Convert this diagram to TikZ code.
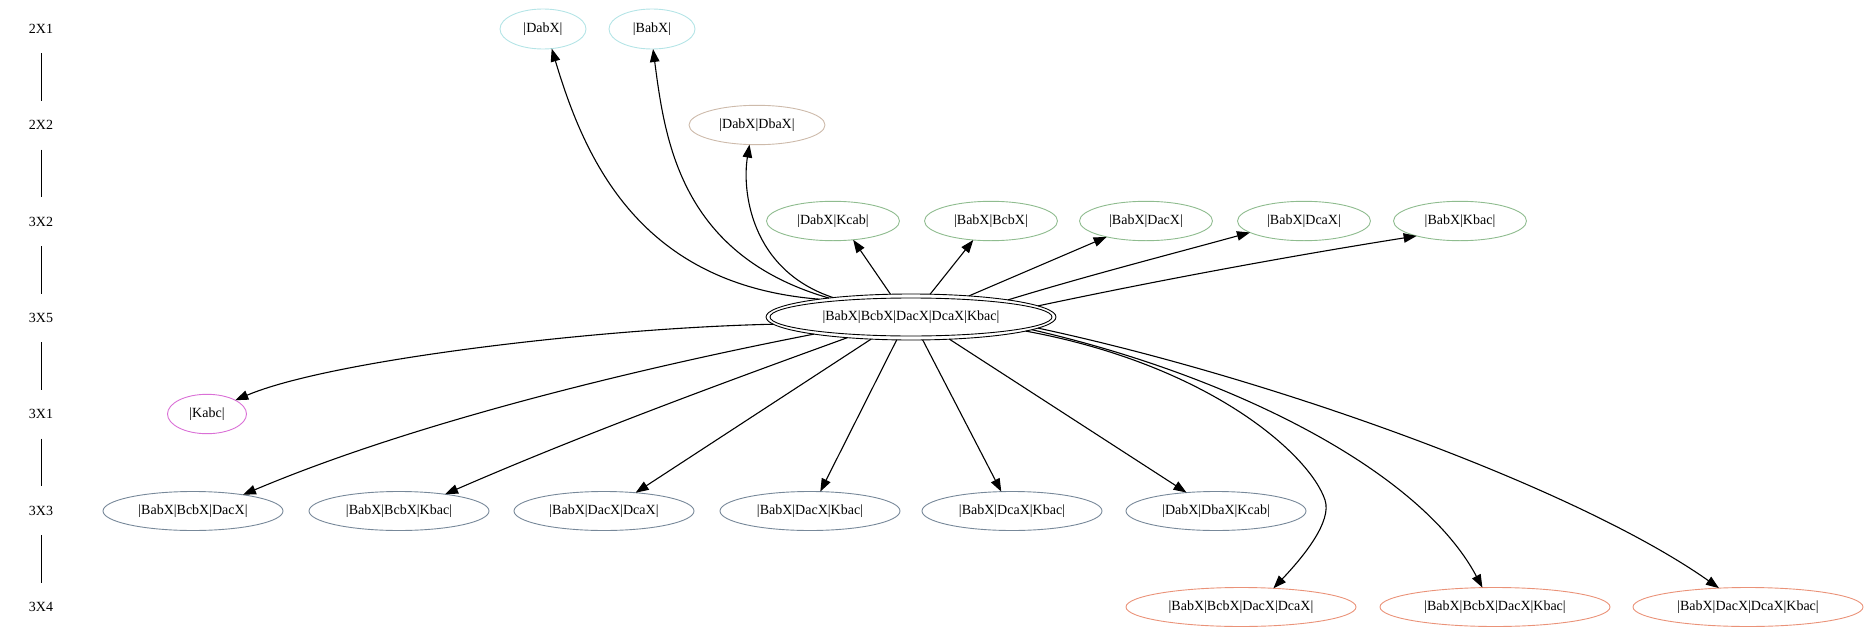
\documentclass[tikz,border=0pt]{standalone}
\usepackage{fontspec}
\setmainfont{Liberation Serif}
\usetikzlibrary{shapes.geometric,arrows.meta}
\definecolor{cA}{HTML}{B4E4E6}
\definecolor{cB}{HTML}{CDBAAA}
\definecolor{cC}{HTML}{8FBC8F}
\definecolor{cD}{HTML}{DA70D6}
\definecolor{cE}{HTML}{778899}
\definecolor{cF}{HTML}{EA9278}
\begin{document}
\begin{tikzpicture}[x=1pt,y=-1pt,
  every node/.style={font=\fontsize{14pt}{16pt}\selectfont, inner sep=0pt, outer sep=0pt},
  nd/.style={ellipse, draw, line width=0.9pt},
  rowA/.style={nd, draw=cA, minimum width=86pt, minimum height=40pt},
  rowB/.style={nd, draw=cB, minimum width=136pt, minimum height=39.4pt},
  rowC/.style={nd, draw=cC, minimum width=133pt, minimum height=39.4pt},
  rowD/.style={nd, draw=cD, minimum width=79pt, minimum height=39.4pt},
  rowE/.style={nd, draw=cE, minimum width=180pt, minimum height=39pt},
  rowF/.style={nd, draw=cF, minimum width=230pt, minimum height=39pt},
  hub/.style={nd, draw=black, minimum width=290pt, minimum height=46pt},
  rank/.style={minimum height=48.6pt},
  edge/.style={line width=1.1pt, -{Triangle[length=13pt,width=9.5pt]}},
  rankline/.style={line width=1pt}
]
\useasboundingbox (0,0) rectangle (1869,637);
% rank labels
\node[rank] (k1) at (41,29) {2X1};
\node[rank] (k2) at (41,125.3) {2X2};
\node[rank] (k3) at (41,221.7) {3X2};
\node[rank] (k4) at (41,318) {3X5};
\node[rank] (k5) at (41,414.3) {3X1};
\node[rank] (k6) at (41,510.7) {3X3};
\node[rank] (k7) at (41,607) {3X4};
\draw[rankline] (k1.south) -- (k2.north);
\draw[rankline] (k2.south) -- (k3.north);
\draw[rankline] (k3.south) -- (k4.north);
\draw[rankline] (k4.south) -- (k5.north);
\draw[rankline] (k5.south) -- (k6.north);
\draw[rankline] (k6.south) -- (k7.north);
% nodes
\node[rowA] (n1) at (543,29) {|DabX|};
\node[rowA] (n2) at (652,29) {|BabX|};
\node[rowB] (n3) at (757,125) {|DabX|DbaX|};
\node[rowC] (n4) at (833,221) {|DabX|Kcab|};
\node[rowC] (n5) at (991,221) {|BabX|BcbX|};
\node[rowC] (n6) at (1146,221) {|BabX|DacX|};
\node[rowC] (n7) at (1304,221) {|BabX|DcaX|};
\node[rowC] (n8) at (1460,221) {|BabX|Kbac|};
\node[hub] (c) at (911,317) {|BabX|BcbX|DacX|DcaX|Kbac|};
\draw[line width=0.9pt] (c.center) ellipse [x radius=141pt, y radius=19pt];
\node[rowD] (n9) at (207,414) {|Kabc|};
\node[rowE] (n10) at (193,511) {|BabX|BcbX|DacX|};
\node[rowE] (n11) at (399,511) {|BabX|BcbX|Kbac|};
\node[rowE] (n12) at (604,511) {|BabX|DacX|DcaX|};
\node[rowE] (n13) at (810,511) {|BabX|DacX|Kbac|};
\node[rowE] (n14) at (1012,511) {|BabX|DcaX|Kbac|};
\node[rowE] (n15) at (1216,511) {|DabX|DbaX|Kcab|};
\node[rowF] (n16) at (1241,607) {|BabX|BcbX|DacX|DcaX|};
\node[rowF] (n17) at (1495,607) {|BabX|BcbX|DacX|Kbac|};
\node[rowF] (n18) at (1748,607) {|BabX|DacX|DcaX|Kbac|};
% edges upward
\draw[edge] (c.169.6) .. controls (640,285) and (585,160) .. (n1.-66);
\draw[edge] (c.167.1) .. controls (680,255) and (665,140) .. (n2.-87);
\draw[edge] (c.166.5) .. controls (750,270) and (742,190) .. (n3.-111);
\draw[edge] (c.132.4) -- (n4.-43);
\draw[edge] (c.50.4) -- (n5.-133.5);
\draw[edge] (c.20.6) -- (n6.-158);
\draw[edge] (c.10.6) .. controls (1086,276) and (1168,255) .. (n7.-168);
\draw[edge] (c.5.8) .. controls (1160,280) and (1290,256) .. (n8.-161);
% edges downward
\draw[edge] (c.183) .. controls (600,328) and (330,360) .. (n9.26.4);
\draw[edge] (c.190.7) .. controls (650,366) and (420,420) .. (n10.18);
\draw[edge] (c.198.2) .. controls (714,386) and (579,436) .. (n11.20);
\draw[edge] (c.209.6) -- (n12.30.6);
\draw[edge] (c.238.6) -- (n13.62.7);
\draw[edge] (c.297.7) -- (n14.119.6);
\draw[edge] (c.330.4) -- (n15.148.5);
\draw[edge] (c.-7) .. controls (1210,365) and (1310,455) .. (1325,500) .. controls (1332,521) and (1305,555) .. (n16.30.3);
\draw[edge] (c.-6) .. controls (1230,375) and (1420,470) .. (n17.123);
\draw[edge] (c.-5) .. controls (1280,380) and (1580,490) .. (n18.147);
\end{tikzpicture}
\end{document}
